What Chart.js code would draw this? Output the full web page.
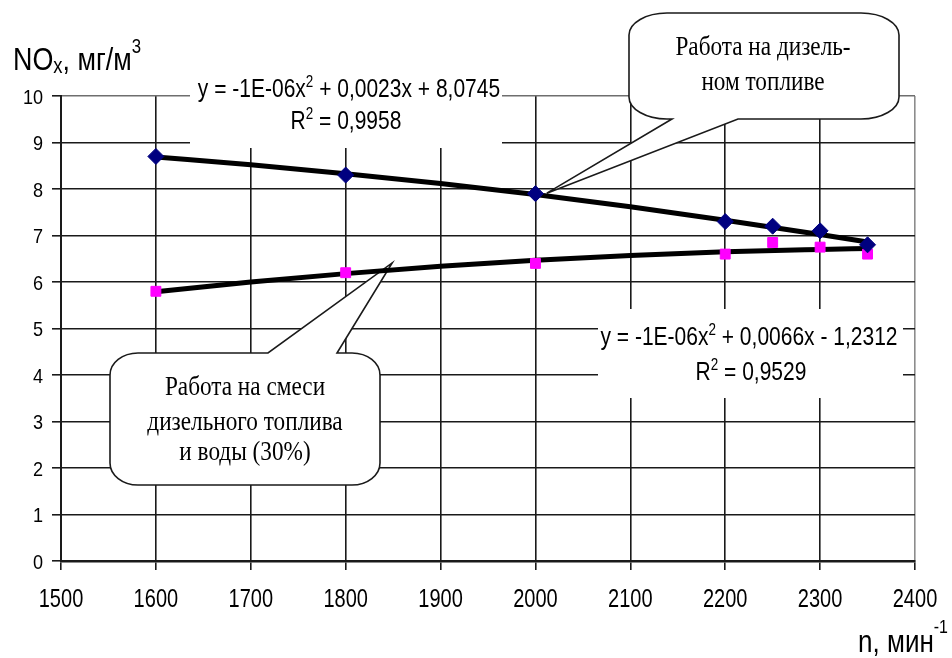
<!DOCTYPE html>
<html lang="ru">
<head>
<meta charset="utf-8">
<title>NOx – частота вращения</title>
<script src="https://cdn.jsdelivr.net/npm/chart.js@4.4.1/dist/chart.umd.min.js"></script>
<style>
  html, body { margin: 0; padding: 0; background: #fff; }
  #wrap { position: relative; width: 952px; height: 658px; }
</style>
</head>
<body>
<div id="wrap"><canvas id="chartNox"></canvas></div>
<script>
// частота вращения, мин-1
const rpm = [1600, 1800, 2000, 2200, 2250, 2300, 2350];
// NOx, мг/м3
const noxDiesel = [8.7, 8.3, 7.9, 7.3, 7.2, 7.1, 6.8];
const noxMix = [5.8, 6.2, 6.4, 6.6, 6.85, 6.75, 6.6];

// полиномиальные линии тренда (2-я степень)
const trendRpm = [1600, 1700, 1800, 1900, 2000, 2100, 2200, 2300, 2350];
const trendDiesel = [8.69, 8.52, 8.33, 8.12, 7.88, 7.62, 7.33, 7.02, 6.86];
const trendMix = [5.79, 6.00, 6.18, 6.34, 6.47, 6.57, 6.65, 6.70, 6.72];

// оси
const xMin = 1500, xMax = 2400, xStep = 100;
const yMin = 0, yMax = 10, yStep = 1;

// подписи уравнений тренда
const eqDiesel = ['y = -1E-06x', '2', ' + 0,0023x + 8,0745'];
const r2Diesel = ['R', '2', ' = 0,9958'];
const eqMix = ['y = -1E-06x', '2', ' + 0,0066x - 1,2312'];
const r2Mix = ['R', '2', ' = 0,9529'];

const calloutDiesel = ['Работа на дизель-', 'ном топливе'];
const calloutMix = ['Работа на смеси', 'дизельного топлива', 'и воды (30%)'];

const SANS = "'Liberation Sans', Arial, sans-serif";
const SERIF = "'Liberation Serif', 'Times New Roman', serif";

const toPts = (xs, ys) => xs.map((x, i) => ({ x: x, y: ys[i] }));

// текст с подстрочными/надстрочными частями, сжатый по горизонтали
function drawRich(ctx, parts, x, y, align, sx) {
    let total = 0;
    parts.forEach(p => {
        ctx.font = `${p.size}px ${p.family || SANS}`;
        p.w = ctx.measureText(p.t).width * sx;
        total += p.w;
    });
    let cx = align === 'center' ? x - total / 2 : align === 'right' ? x - total : x;
    parts.forEach(p => {
        ctx.save();
        ctx.translate(cx, y + (p.dy || 0));
        ctx.scale(sx, 1);
        ctx.font = `${p.size}px ${p.family || SANS}`;
        ctx.fillStyle = '#000';
        ctx.textAlign = 'left';
        ctx.textBaseline = 'alphabetic';
        ctx.fillText(p.t, 0, 0);
        ctx.restore();
        cx += p.w;
    });
}

function equationParts(arr, size) {
    return [
        { t: arr[0], size: size },
        { t: arr[1], size: Math.round(size * 0.62), dy: -size * 0.42 },
        { t: arr[2], size: size }
    ];
}

// выноска-прямоугольник со скруглёнными углами и "хвостом"
function calloutPath(ctx, l, t, r, b, rx, ry, tail) {
    ctx.beginPath();
    ctx.moveTo(l + rx, t);
    if (tail.edge === 'top') {
        ctx.lineTo(tail.x1, t);
        ctx.lineTo(tail.tx, tail.ty);
        ctx.lineTo(tail.x2, t);
    }
    ctx.lineTo(r - rx, t);
    ctx.ellipse(r - rx, t + ry, rx, ry, 0, -Math.PI / 2, 0);
    ctx.lineTo(r, b - ry);
    ctx.ellipse(r - rx, b - ry, rx, ry, 0, 0, Math.PI / 2);
    if (tail.edge === 'bottom') {
        ctx.lineTo(tail.x2, b);
        ctx.lineTo(tail.tx, tail.ty);
        ctx.lineTo(tail.x1, b);
    }
    ctx.lineTo(l + rx, b);
    ctx.ellipse(l + rx, b - ry, rx, ry, 0, Math.PI / 2, Math.PI);
    ctx.lineTo(l, t + ry);
    ctx.ellipse(l + rx, t + ry, rx, ry, 0, Math.PI, Math.PI * 1.5);
    ctx.closePath();
}

function drawCallout(ctx, box, tail, lines, cx, baselines) {
    ctx.save();
    calloutPath(ctx, box.l, box.t, box.r, box.b, box.rx, box.ry, tail);
    ctx.fillStyle = '#fff';
    ctx.fill();
    ctx.lineWidth = 1.6;
    ctx.strokeStyle = '#1a1a1a';
    ctx.stroke();
    ctx.restore();
    lines.forEach((s, i) => drawRich(ctx, [{ t: s, size: 28, family: SERIF }], cx, baselines[i], 'center', 0.83));
}

const notesPlugin = {
    id: 'notes',
    beforeDatasetsDraw(chart) {
        const ctx = chart.ctx;
        const xs = chart.scales.x, ys = chart.scales.y;

        // белые подложки уравнений поверх сетки
        ctx.save();
        ctx.fillStyle = '#fff';
        ctx.fillRect(190, 72, 312, 76);
        ctx.fillRect(598, 309, 305, 89);
        ctx.restore();

        drawRich(ctx, equationParts(eqDiesel, 25), 349, 97, 'center', 0.84);
        drawRich(ctx, equationParts(r2Diesel, 25), 346, 129, 'center', 0.84);
        drawRich(ctx, equationParts(eqMix, 25), 749, 345, 'center', 0.84);
        drawRich(ctx, equationParts(r2Mix, 25), 751, 380, 'center', 0.84);

        // выноски к линиям тренда
        drawCallout(ctx,
            { l: 629, t: 13, r: 899, b: 119, rx: 38, ry: 22 },
            { edge: 'bottom', x1: 672, x2: 738, tx: xs.getPixelForValue(2012), ty: ys.getPixelForValue(7.91) },
            calloutDiesel, 763, [55, 90]);
        drawCallout(ctx,
            { l: 110, t: 353, r: 380, b: 485, rx: 28, ry: 22 },
            { edge: 'top', x1: 268, x2: 337, tx: xs.getPixelForValue(1849), ty: ys.getPixelForValue(6.41) },
            calloutMix, 245, [395, 430, 460]);
    },
    afterDraw(chart) {
        const ctx = chart.ctx;
        const xs = chart.scales.x, ys = chart.scales.y;

        // подписи делений (узкий шрифт)
        xs.ticks.forEach(t => {
            drawRich(ctx, [{ t: String(t.value), size: 26 }], xs.getPixelForValue(t.value), 607, 'center', 0.77);
        });
        ys.ticks.forEach(t => {
            drawRich(ctx, [{ t: String(t.value), size: 21 }], 43, ys.getPixelForValue(t.value) + 7.5, 'right', 0.86);
        });

        // подпись оси Y
        drawRich(ctx, [
            { t: 'NO', size: 32 },
            { t: 'x', size: 22, dy: 3 },
            { t: ', мг/м', size: 32 },
            { t: '3', size: 20, dy: -17 }
        ], 13, 70, 'left', 0.84);
        // подпись оси X
        drawRich(ctx, [
            { t: 'n, мин', size: 31 },
            { t: '-1', size: 19, dy: -19 }
        ], 948, 652, 'right', 0.84);
    }
};

const ctx = document.getElementById('chartNox').getContext('2d');
new Chart(ctx, {
    type: 'scatter',
    data: {
        datasets: [
            {
                label: 'Дизельное топливо',
                data: toPts(rpm, noxDiesel),
                pointStyle: 'rectRot',
                pointRadius: 8,
                backgroundColor: '#000080',
                borderColor: '#000080',
                borderWidth: 1,
                showLine: false,
                order: 1
            },
            {
                label: 'Смесь с водой (30%)',
                data: toPts(rpm, noxMix),
                pointStyle: 'rect',
                pointRadius: 7,
                backgroundColor: '#ff00ff',
                borderColor: '#ff00ff',
                borderWidth: 1,
                showLine: false,
                order: 2
            },
            {
                label: 'Тренд (дизельное топливо)',
                data: toPts(trendRpm, trendDiesel),
                showLine: true,
                borderColor: '#000',
                borderWidth: 5,
                pointRadius: 0,
                cubicInterpolationMode: 'monotone',
                order: 3
            },
            {
                label: 'Тренд (смесь)',
                data: toPts(trendRpm, trendMix),
                showLine: true,
                borderColor: '#000',
                borderWidth: 5,
                pointRadius: 0,
                cubicInterpolationMode: 'monotone',
                order: 4
            }
        ]
    },
    options: {
        responsive: true,
        maintainAspectRatio: false,
        animation: false,
        layout: { padding: { top: 96, right: 37, left: 0, bottom: 0 } },
        plugins: {
            legend: { display: false },
            tooltip: { enabled: false }
        },
        scales: {
            x: {
                type: 'linear',
                min: xMin,
                max: xMax,
                afterFit: (scale) => { scale.height = 97; },
                ticks: {
                    stepSize: xStep,
                    padding: 12,
                    color: 'rgba(0,0,0,0)',
                    font: { family: SANS, size: 20 },
                    maxRotation: 0,
                    callback: (v) => String(v)
                },
                grid: {
                    color: (c) => (c.tick && c.tick.value === xMax ? '#8c8c8c' : '#1a1a1a'),
                    lineWidth: 1.6,
                    tickColor: '#1a1a1a',
                    tickLength: 9
                },
                border: { display: true, color: '#1a1a1a', width: 2.5 }
            },
            y: {
                min: yMin,
                max: yMax,
                afterFit: (scale) => { scale.width = 61; },
                ticks: {
                    stepSize: yStep,
                    padding: 9,
                    color: 'rgba(0,0,0,0)',
                    font: { family: SANS, size: 18 }
                },
                grid: {
                    color: (c) => (c.tick && c.tick.value === yMax ? '#6e6e6e' : '#1a1a1a'),
                    lineWidth: 1.6,
                    tickColor: '#1a1a1a',
                    tickLength: 9
                },
                border: { display: true, color: '#1a1a1a', width: 2 }
            }
        }
    },
    plugins: [notesPlugin]
});
</script>
</body>
</html>
